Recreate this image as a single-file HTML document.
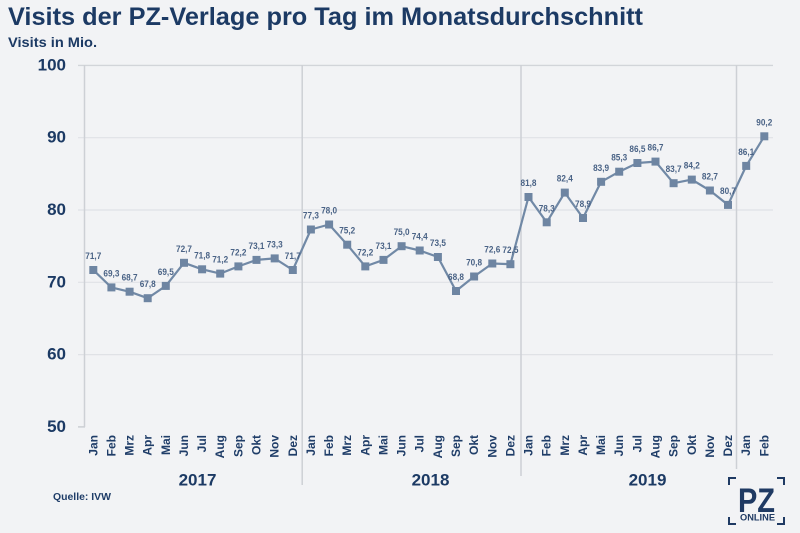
<!DOCTYPE html>
<html><head><meta charset="utf-8"><style>
html,body{margin:0;padding:0;background:#f2f3f5;}
svg{display:block;}
text{font-family:"Liberation Sans",Arial,sans-serif;font-weight:bold;}
</style></head><body>
<svg width="800" height="533" viewBox="0 0 800 533" xmlns="http://www.w3.org/2000/svg">
<rect width="800" height="533" fill="#f2f3f5"/>
<text x="8" y="25" font-size="25" fill="#1c3a64" textLength="635" lengthAdjust="spacingAndGlyphs">Visits der PZ-Verlage pro Tag im Monatsdurchschnitt</text>
<text x="8" y="47" font-size="14" fill="#1c3a64" textLength="89" lengthAdjust="spacingAndGlyphs">Visits in Mio.</text>

<!-- gridlines -->
<g stroke="#e0e2e6" stroke-width="1.2">
<line x1="78" y1="137.7" x2="773" y2="137.7"/>
<line x1="78" y1="210" x2="773" y2="210"/>
<line x1="78" y1="282.3" x2="773" y2="282.3"/>
<line x1="78" y1="354.6" x2="773" y2="354.6"/>
</g>
<line x1="78" y1="65.4" x2="773" y2="65.4" stroke="#d2d5d9" stroke-width="1.4"/>
<line x1="78" y1="426.9" x2="85" y2="426.9" stroke="#c9ccd1" stroke-width="1.4"/>
<!-- axis and separators -->
<g stroke="#cdd0d5" stroke-width="1.5">
<line x1="84.5" y1="65" x2="84.5" y2="427"/>
<line x1="302.2" y1="65" x2="302.2" y2="485"/>
<line x1="521" y1="65" x2="521" y2="476"/>
<line x1="736.5" y1="65" x2="736.5" y2="469"/>
</g>

<!-- y labels -->
<g font-size="17" fill="#1c3a64" text-anchor="end">
<text x="66" y="70.4">100</text>
<text x="66" y="142.7">90</text>
<text x="66" y="215">80</text>
<text x="66" y="287.3">70</text>
<text x="66" y="359.6">60</text>
<text x="66" y="431.9">50</text>
</g>

<!-- series line -->
<polyline fill="none" stroke="#7189a6" stroke-width="2.2" stroke-linejoin="round" points="93.3,270.0 111.4,287.4 129.6,291.7 147.7,298.2 165.8,285.9 184.0,262.8 202.1,269.3 220.2,273.6 238.4,266.4 256.5,259.9 274.7,258.4 292.8,270.0 310.9,229.5 329.1,224.5 347.2,244.7 365.3,266.4 383.5,259.9 401.6,246.2 419.7,250.5 437.9,257.0 456.0,291.0 474.1,276.5 492.3,263.5 510.4,264.2 528.5,197.0 546.7,222.3 564.8,192.6 583.0,218.0 601.1,181.8 619.2,171.7 637.4,163.0 655.5,161.6 673.6,183.2 691.8,179.6 709.9,190.5 728.0,204.9 746.2,165.9 764.3,136.3"/>

<!-- markers -->
<g fill="#6e85a2">
<rect x="89.3" y="266.0" width="8" height="8"/>
<rect x="107.4" y="283.4" width="8" height="8"/>
<rect x="125.6" y="287.7" width="8" height="8"/>
<rect x="143.7" y="294.2" width="8" height="8"/>
<rect x="161.8" y="281.9" width="8" height="8"/>
<rect x="180.0" y="258.8" width="8" height="8"/>
<rect x="198.1" y="265.3" width="8" height="8"/>
<rect x="216.2" y="269.6" width="8" height="8"/>
<rect x="234.4" y="262.4" width="8" height="8"/>
<rect x="252.5" y="255.9" width="8" height="8"/>
<rect x="270.7" y="254.4" width="8" height="8"/>
<rect x="288.8" y="266.0" width="8" height="8"/>
<rect x="306.9" y="225.5" width="8" height="8"/>
<rect x="325.1" y="220.5" width="8" height="8"/>
<rect x="343.2" y="240.7" width="8" height="8"/>
<rect x="361.3" y="262.4" width="8" height="8"/>
<rect x="379.5" y="255.9" width="8" height="8"/>
<rect x="397.6" y="242.2" width="8" height="8"/>
<rect x="415.7" y="246.5" width="8" height="8"/>
<rect x="433.9" y="253.0" width="8" height="8"/>
<rect x="452.0" y="287.0" width="8" height="8"/>
<rect x="470.1" y="272.5" width="8" height="8"/>
<rect x="488.3" y="259.5" width="8" height="8"/>
<rect x="506.4" y="260.2" width="8" height="8"/>
<rect x="524.5" y="193.0" width="8" height="8"/>
<rect x="542.7" y="218.3" width="8" height="8"/>
<rect x="560.8" y="188.6" width="8" height="8"/>
<rect x="579.0" y="214.0" width="8" height="8"/>
<rect x="597.1" y="177.8" width="8" height="8"/>
<rect x="615.2" y="167.7" width="8" height="8"/>
<rect x="633.4" y="159.0" width="8" height="8"/>
<rect x="651.5" y="157.6" width="8" height="8"/>
<rect x="669.6" y="179.2" width="8" height="8"/>
<rect x="687.8" y="175.6" width="8" height="8"/>
<rect x="705.9" y="186.5" width="8" height="8"/>
<rect x="724.0" y="200.9" width="8" height="8"/>
<rect x="742.2" y="161.9" width="8" height="8"/>
<rect x="760.3" y="132.3" width="8" height="8"/>
</g>

<!-- data labels -->
<g font-size="9.5" fill="#4a6386" text-anchor="middle">
<text x="93.3" y="259.0" textLength="16" lengthAdjust="spacingAndGlyphs">71,7</text>
<text x="111.4" y="276.4" textLength="16" lengthAdjust="spacingAndGlyphs">69,3</text>
<text x="129.6" y="280.7" textLength="16" lengthAdjust="spacingAndGlyphs">68,7</text>
<text x="147.7" y="287.2" textLength="16" lengthAdjust="spacingAndGlyphs">67,8</text>
<text x="165.8" y="274.9" textLength="16" lengthAdjust="spacingAndGlyphs">69,5</text>
<text x="184.0" y="251.8" textLength="16" lengthAdjust="spacingAndGlyphs">72,7</text>
<text x="202.1" y="258.3" textLength="16" lengthAdjust="spacingAndGlyphs">71,8</text>
<text x="220.2" y="262.6" textLength="16" lengthAdjust="spacingAndGlyphs">71,2</text>
<text x="238.4" y="255.4" textLength="16" lengthAdjust="spacingAndGlyphs">72,2</text>
<text x="256.5" y="248.9" textLength="16" lengthAdjust="spacingAndGlyphs">73,1</text>
<text x="274.7" y="247.4" textLength="16" lengthAdjust="spacingAndGlyphs">73,3</text>
<text x="292.8" y="259.0" textLength="16" lengthAdjust="spacingAndGlyphs">71,7</text>
<text x="310.9" y="218.5" textLength="16" lengthAdjust="spacingAndGlyphs">77,3</text>
<text x="329.1" y="213.5" textLength="16" lengthAdjust="spacingAndGlyphs">78,0</text>
<text x="347.2" y="233.7" textLength="16" lengthAdjust="spacingAndGlyphs">75,2</text>
<text x="365.3" y="255.4" textLength="16" lengthAdjust="spacingAndGlyphs">72,2</text>
<text x="383.5" y="248.9" textLength="16" lengthAdjust="spacingAndGlyphs">73,1</text>
<text x="401.6" y="235.2" textLength="16" lengthAdjust="spacingAndGlyphs">75,0</text>
<text x="419.7" y="239.5" textLength="16" lengthAdjust="spacingAndGlyphs">74,4</text>
<text x="437.9" y="246.0" textLength="16" lengthAdjust="spacingAndGlyphs">73,5</text>
<text x="456.0" y="280.0" textLength="16" lengthAdjust="spacingAndGlyphs">68,8</text>
<text x="474.1" y="265.5" textLength="16" lengthAdjust="spacingAndGlyphs">70,8</text>
<text x="492.3" y="252.5" textLength="16" lengthAdjust="spacingAndGlyphs">72,6</text>
<text x="510.4" y="253.2" textLength="16" lengthAdjust="spacingAndGlyphs">72,5</text>
<text x="528.5" y="186.0" textLength="16" lengthAdjust="spacingAndGlyphs">81,8</text>
<text x="546.7" y="211.3" textLength="16" lengthAdjust="spacingAndGlyphs">78,3</text>
<text x="564.8" y="181.6" textLength="16" lengthAdjust="spacingAndGlyphs">82,4</text>
<text x="583.0" y="207.0" textLength="16" lengthAdjust="spacingAndGlyphs">78,9</text>
<text x="601.1" y="170.8" textLength="16" lengthAdjust="spacingAndGlyphs">83,9</text>
<text x="619.2" y="160.7" textLength="16" lengthAdjust="spacingAndGlyphs">85,3</text>
<text x="637.4" y="152.0" textLength="16" lengthAdjust="spacingAndGlyphs">86,5</text>
<text x="655.5" y="150.6" textLength="16" lengthAdjust="spacingAndGlyphs">86,7</text>
<text x="673.6" y="172.2" textLength="16" lengthAdjust="spacingAndGlyphs">83,7</text>
<text x="691.8" y="168.6" textLength="16" lengthAdjust="spacingAndGlyphs">84,2</text>
<text x="709.9" y="179.5" textLength="16" lengthAdjust="spacingAndGlyphs">82,7</text>
<text x="728.0" y="193.9" textLength="16" lengthAdjust="spacingAndGlyphs">80,7</text>
<text x="746.2" y="154.9" textLength="16" lengthAdjust="spacingAndGlyphs">86,1</text>
<text x="764.3" y="125.3" textLength="16" lengthAdjust="spacingAndGlyphs">90,2</text>
</g>

<!-- month labels -->
<g font-size="12" fill="#1f3d68" text-anchor="end">
<text transform="translate(97.3,435) rotate(-90)">Jan</text>
<text transform="translate(115.4,435) rotate(-90)">Feb</text>
<text transform="translate(133.6,435) rotate(-90)">Mrz</text>
<text transform="translate(151.7,435) rotate(-90)">Apr</text>
<text transform="translate(169.8,435) rotate(-90)">Mai</text>
<text transform="translate(188.0,435) rotate(-90)">Jun</text>
<text transform="translate(206.1,435) rotate(-90)">Jul</text>
<text transform="translate(224.2,435) rotate(-90)">Aug</text>
<text transform="translate(242.4,435) rotate(-90)">Sep</text>
<text transform="translate(260.5,435) rotate(-90)">Okt</text>
<text transform="translate(278.7,435) rotate(-90)">Nov</text>
<text transform="translate(296.8,435) rotate(-90)">Dez</text>
<text transform="translate(314.9,435) rotate(-90)">Jan</text>
<text transform="translate(333.1,435) rotate(-90)">Feb</text>
<text transform="translate(351.2,435) rotate(-90)">Mrz</text>
<text transform="translate(369.3,435) rotate(-90)">Apr</text>
<text transform="translate(387.5,435) rotate(-90)">Mai</text>
<text transform="translate(405.6,435) rotate(-90)">Jun</text>
<text transform="translate(423.7,435) rotate(-90)">Jul</text>
<text transform="translate(441.9,435) rotate(-90)">Aug</text>
<text transform="translate(460.0,435) rotate(-90)">Sep</text>
<text transform="translate(478.1,435) rotate(-90)">Okt</text>
<text transform="translate(496.3,435) rotate(-90)">Nov</text>
<text transform="translate(514.4,435) rotate(-90)">Dez</text>
<text transform="translate(532.5,435) rotate(-90)">Jan</text>
<text transform="translate(550.7,435) rotate(-90)">Feb</text>
<text transform="translate(568.8,435) rotate(-90)">Mrz</text>
<text transform="translate(587.0,435) rotate(-90)">Apr</text>
<text transform="translate(605.1,435) rotate(-90)">Mai</text>
<text transform="translate(623.2,435) rotate(-90)">Jun</text>
<text transform="translate(641.4,435) rotate(-90)">Jul</text>
<text transform="translate(659.5,435) rotate(-90)">Aug</text>
<text transform="translate(677.6,435) rotate(-90)">Sep</text>
<text transform="translate(695.8,435) rotate(-90)">Okt</text>
<text transform="translate(713.9,435) rotate(-90)">Nov</text>
<text transform="translate(732.0,435) rotate(-90)">Dez</text>
<text transform="translate(750.2,435) rotate(-90)">Jan</text>
<text transform="translate(768.3,435) rotate(-90)">Feb</text>
</g>

<!-- year labels -->
<g font-size="17" fill="#1c3a64" text-anchor="middle">
<text x="197.5" y="485.5">2017</text>
<text x="430.5" y="485.5">2018</text>
<text x="647.5" y="485.5">2019</text>
</g>

<text x="53" y="500" font-size="10" fill="#1f3d68" textLength="58" lengthAdjust="spacingAndGlyphs">Quelle: IVW</text>

<!-- logo -->
<g stroke="#1f3a63" stroke-width="2" fill="none">
<polyline points="729,485 729,478 736,478"/>
<polyline points="777,478 784,478 784,485"/>
<polyline points="729,517 729,524 736,524"/>
<polyline points="777,524 784,524 784,517"/>
</g>
<text x="738" y="512" font-size="34" fill="#1f3a63" textLength="37" lengthAdjust="spacingAndGlyphs">PZ</text>
<text x="740" y="520.5" font-size="9.5" fill="#1f3a63" textLength="35" lengthAdjust="spacingAndGlyphs">ONLINE</text>
</svg>
</body></html>
